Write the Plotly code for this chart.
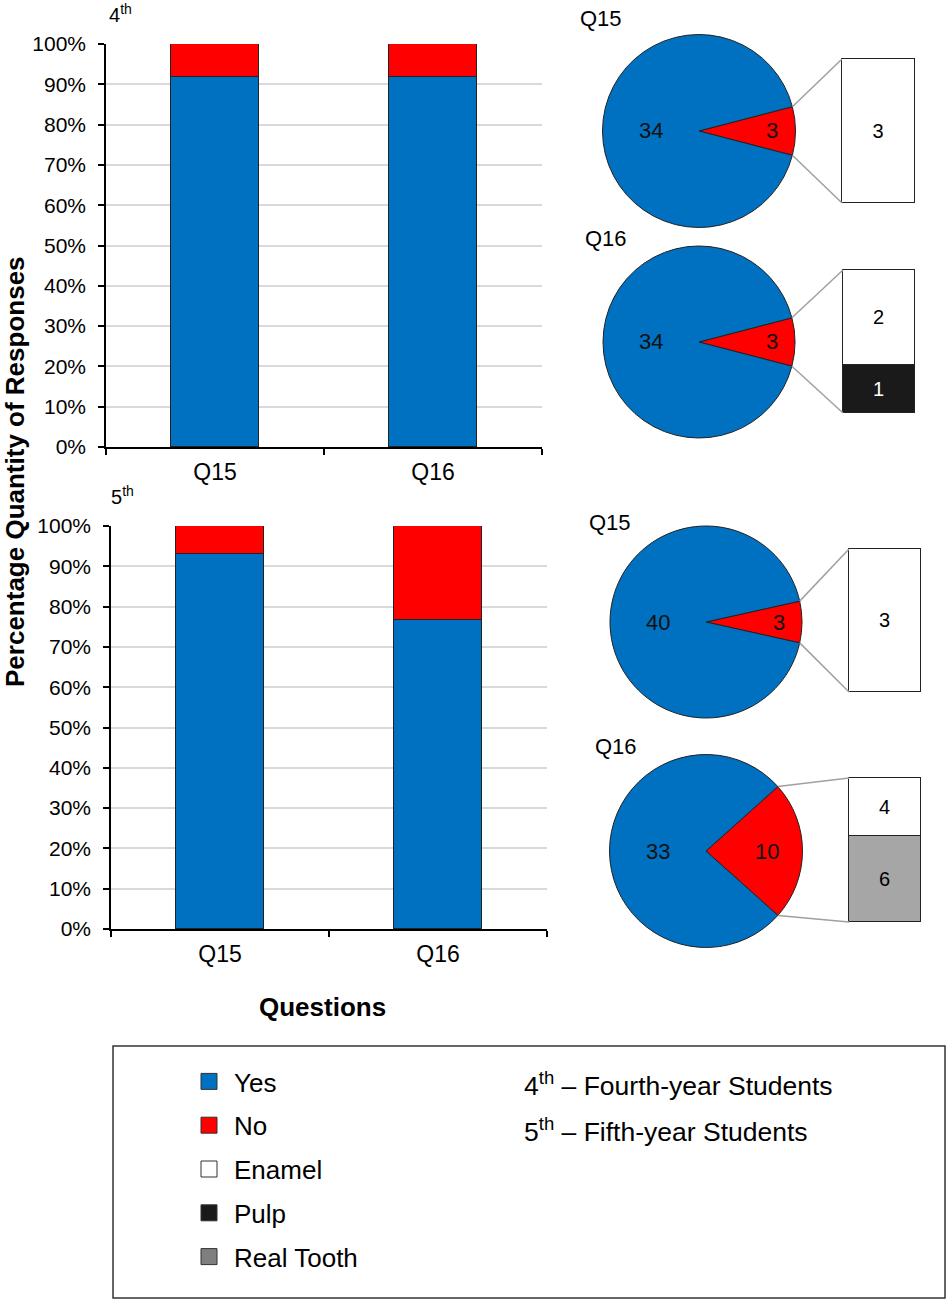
import math
import plotly.graph_objects as go

# ---------------- data ----------------
categories = ["Q15", "Q16"]
yes_4th = [34, 34]
no_4th = [3, 3]
yes_5th = [40, 33]
no_5th = [3, 10]

enamel_4th = [3, 2]
pulp_4th = [0, 1]
real_tooth_4th = [0, 0]
enamel_5th = [3, 4]
pulp_5th = [0, 0]
real_tooth_5th = [0, 6]

tick_vals = [0, 0.1, 0.2, 0.3, 0.4, 0.5, 0.6, 0.7, 0.8, 0.9, 1.0]
tick_text = ["0%", "10%", "20%", "30%", "40%", "50%", "60%", "70%", "80%", "90%", "100%"]

legend_names = ["Yes", "No", "Enamel", "Pulp", "Real Tooth"]
group_notes = ["4<sup>th</sup> – Fourth-year Students", "5<sup>th</sup> – Fifth-year Students"]

# ---------------- styles ----------------
W, H = 948, 1301
FONT = "Liberation Sans, Arial, sans-serif"
BLUE = "#0070C0"
RED = "#FF0000"
WHITE = "#FFFFFF"
BLACK_FILL = "#1a1a1a"
GRAY_BOX = "#a6a6a6"
GRAY_LEG = "#7f7f7f"
OUTLINE = "#222222"
comp_colors = {"Enamel": WHITE, "Pulp": BLACK_FILL, "Real Tooth": GRAY_BOX}
comp_text = {"Enamel": "black", "Pulp": "white", "Real Tooth": "black"}


def fx(x):
    return x / W


def fy(y):
    return 1 - y / H


def label(x, y, text, size, xanchor="center", bold=False, angle=0, color="black"):
    return dict(x=fx(x), y=fy(y), xref="paper", yref="paper", xanchor=xanchor, yanchor="middle",
                text=("<b>%s</b>" % text) if bold else text, showarrow=False, textangle=angle,
                font=dict(size=size, color=color, family=FONT))


fig = go.Figure()

# ---------------- stacked bar charts ----------------
bar_panels = [
    dict(yes=yes_4th, no=no_4th, xa="x", ya="y", x0=106, x1=542, y0=44, y1=447),
    dict(yes=yes_5th, no=no_5th, xa="x2", ya="y2", x0=111, x1=547, y0=526, y1=929),
]
for p in bar_panels:
    tot = [a + b for a, b in zip(p["yes"], p["no"])]
    yfrac = [a / t for a, t in zip(p["yes"], tot)]
    nfrac = [b / t for b, t in zip(p["no"], tot)]
    fig.add_trace(go.Bar(x=categories, y=yfrac, xaxis=p["xa"], yaxis=p["ya"], width=0.4,
                         marker=dict(color=BLUE, line=dict(color=OUTLINE, width=1)),
                         showlegend=False, hoverinfo="skip"))
    fig.add_trace(go.Bar(x=categories, y=nfrac, xaxis=p["xa"], yaxis=p["ya"], width=0.4,
                         marker=dict(color=RED, line=dict(color=OUTLINE, width=1)),
                         showlegend=False, hoverinfo="skip"))

axis_common_y = dict(range=[0, 1], tickvals=tick_vals, ticktext=tick_text, showgrid=True,
                     gridcolor="#d9d9d9", gridwidth=1.5, showline=True, linecolor="black",
                     linewidth=1.5, ticks="outside", ticklen=6, tickcolor="black", tickwidth=1.5,
                     zeroline=False, tickfont=dict(size=21, color="black", family=FONT),
                     ticklabelstandoff=8, fixedrange=True, automargin=False)
axis_common_x = dict(type="category", range=[-0.5, 1.5], showline=True, linecolor="black",
                     linewidth=1.5, ticks="outside", ticklen=6, tickcolor="black", tickwidth=1.5,
                     tickson="boundaries", showgrid=False, automargin=False, ticklabelstandoff=4,
                     tickfont=dict(size=23, color="black", family=FONT), fixedrange=True)

layout_axes = {}
for i, p in enumerate(bar_panels):
    sx = "" if i == 0 else str(i + 1)
    layout_axes["xaxis" + sx] = dict(axis_common_x, domain=[fx(p["x0"]), fx(p["x1"])],
                                     anchor=p["ya"])
    layout_axes["yaxis" + sx] = dict(axis_common_y, domain=[fy(p["y1"]), fy(p["y0"])],
                                     anchor=p["xa"])

# ---------------- pies with breakdown boxes ----------------
pies = [
    dict(yes=yes_4th[0], no=no_4th[0], comps={"Real Tooth": real_tooth_4th[0], "Pulp": pulp_4th[0], "Enamel": enamel_4th[0]},
         cx=699, cy=131, r=96.5, bx0=842, bx1=915, by0=59, by1=203, title=categories[0], tx=601, ty=19, lr=0.76),
    dict(yes=yes_4th[1], no=no_4th[1], comps={"Real Tooth": real_tooth_4th[1], "Pulp": pulp_4th[1], "Enamel": enamel_4th[1]},
         cx=699, cy=342, r=96, bx0=843, bx1=915, by0=270, by1=413, title=categories[1], tx=606, ty=238, lr=0.76),
    dict(yes=yes_5th[0], no=no_5th[0], comps={"Real Tooth": real_tooth_5th[0], "Pulp": pulp_5th[0], "Enamel": enamel_5th[0]},
         cx=706, cy=622, r=96, bx0=849, bx1=921, by0=549, by1=692, title=categories[0], tx=610, ty=522, lr=0.76),
    dict(yes=yes_5th[1], no=no_5th[1], comps={"Real Tooth": real_tooth_5th[1], "Pulp": pulp_5th[1], "Enamel": enamel_5th[1]},
         cx=706, cy=851, r=96.5, bx0=849, bx1=921, by0=778, by1=922, title=categories[1], tx=616, ty=746, lr=0.63),
]

annotations = []
shapes = []
for k, p in enumerate(pies):
    tot = p["yes"] + p["no"]
    f = p["no"] / tot
    fig.add_trace(go.Pie(values=[p["no"], p["yes"]], labels=["No", "Yes"], sort=False,
                         direction="clockwise", rotation=90 - f * 180,
                         marker=dict(colors=[RED, BLUE], line=dict(color=OUTLINE, width=1)),
                         textinfo="none", hoverinfo="skip", showlegend=False,
                         domain=dict(x=[fx(p["cx"] - p["r"]), fx(p["cx"] + p["r"])],
                                     y=[fy(p["cy"] + p["r"]), fy(p["cy"] - p["r"])])))
    # slice labels
    annotations.append(label(p["cx"] - 0.5 * p["r"], p["cy"], str(p["yes"]), 22, color="#111"))
    annotations.append(label(p["cx"] + p["lr"] * p["r"], p["cy"], str(p["no"]), 22, color="#111"))
    annotations.append(label(p["tx"], p["ty"], p["title"], 22))
    # connector lines
    a = f * math.pi
    ex = p["cx"] + p["r"] * math.cos(a)
    ey_up = p["cy"] - p["r"] * math.sin(a)
    ey_dn = p["cy"] + p["r"] * math.sin(a)
    for ey, by in [(ey_up, p["by0"]), (ey_dn, p["by1"])]:
        shapes.append(dict(type="line", xref="paper", yref="paper", x0=fx(ex), y0=fy(ey),
                           x1=fx(p["bx0"]), y1=fy(by), line=dict(color="#a0a0a0", width=1.5)))
    # breakdown box as stacked bar on its own axes
    n = k + 3
    xa, ya = "x%d" % n, "y%d" % n
    pad = 3
    bw = p["bx1"] - p["bx0"]
    bh = p["by1"] - p["by0"]
    hx = 0.5 * (bw + 2 * pad) / bw
    py = pad * p["no"] / bh
    for name, v in p["comps"].items():
        if v <= 0:
            continue
        fig.add_trace(go.Bar(x=["box"], y=[v], xaxis=xa, yaxis=ya, width=1,
                             marker=dict(color=comp_colors[name], line=dict(color=OUTLINE, width=1)),
                             text=[str(v)], textposition="inside", insidetextanchor="middle",
                             textangle=0, textfont=dict(size=20, color=comp_text[name], family=FONT),
                             showlegend=False, hoverinfo="skip"))
    layout_axes["xaxis%d" % n] = dict(domain=[fx(p["bx0"] - pad), fx(p["bx1"] + pad)], range=[-hx, hx],
                                      visible=False, anchor=ya, fixedrange=True, type="category",
                                      automargin=False)
    layout_axes["yaxis%d" % n] = dict(domain=[fy(p["by1"] + pad), fy(p["by0"] - pad)],
                                      range=[-py, p["no"] + py], visible=False, anchor=xa,
                                      fixedrange=True, automargin=False)

# ---------------- legend ----------------
legend_colors = [BLUE, RED, WHITE, BLACK_FILL, GRAY_LEG]
for i, (name, col) in enumerate(zip(legend_names, legend_colors)):
    fig.add_trace(go.Scatter(x=[None], y=[None], mode="markers", name=name,
                             marker=dict(symbol="square", size=16, color=col,
                                         line=dict(color="#333333", width=1)),
                             legendgroup="g%d" % i, showlegend=True, hoverinfo="skip"))

for j, note in enumerate(group_notes):
    annotations.append(label(522, 1084 + 46 * j, note, 26.5, xanchor="left"))

shapes.append(dict(type="rect", xref="paper", yref="paper", x0=fx(113), x1=fx(945), y0=fy(1298), y1=fy(1046),
                   line=dict(color="#333333", width=1.5)))

# titles
annotations.append(label(107, 14, "4<sup>th</sup>", 20, xanchor="left"))
annotations.append(label(109, 495, "5<sup>th</sup>", 20, xanchor="left"))
annotations.append(label(15, 472, "Percentage Quantity of Responses", 26, bold=True, angle=-90))
annotations.append(label(322, 1007, "Questions", 26, bold=True))

fig.update_layout(
    width=W, height=H, margin=dict(l=0, r=0, t=0, b=0, autoexpand=False),
    paper_bgcolor="white", plot_bgcolor="white",
    barmode="stack", bargap=0,
    font=dict(family=FONT, color="black"),
    showlegend=True,
    legend=dict(x=fx(184), y=fy(1058), xanchor="left", yanchor="top", orientation="v",
                font=dict(size=26, color="black", family=FONT), tracegroupgap=7,
                itemwidth=40, bgcolor="rgba(0,0,0,0)", itemsizing="trace"),
    annotations=annotations, shapes=shapes,
    **layout_axes,
)

fig.write_html("out.html", config={"displayModeBar": False},
               post_script="document.body.style.margin='0px';")
